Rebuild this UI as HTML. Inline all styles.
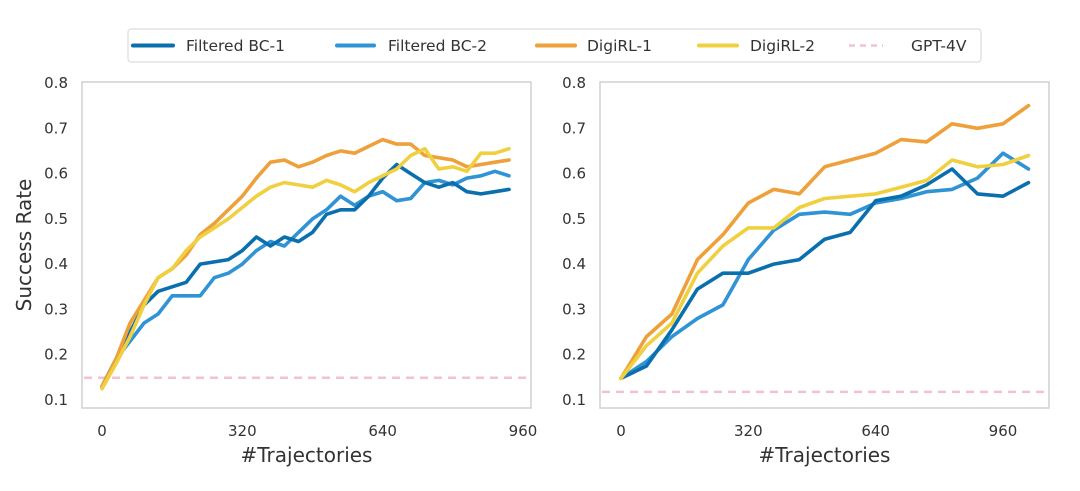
<!DOCTYPE html>
<html><head><meta charset="utf-8"><style>
body{margin:0;background:#fff;}
svg{display:block;font-family:"DejaVu Sans","Liberation Sans",sans-serif;}
</style></head><body>
<svg id="chart" width="1080" height="491" viewBox="0 0 1080 491" xmlns="http://www.w3.org/2000/svg">
<g>
<rect x="128" y="29" width="853" height="33" rx="3" fill="#fff" stroke="#ddd" stroke-width="1.2"/>
<line x1="133" y1="45.5" x2="173" y2="45.5" stroke="#0a6fad" stroke-width="4" stroke-linecap="round"/>
<text x="186" y="51" font-size="15.5" fill="#333">Filtered BC-1</text>
<line x1="337" y1="45.5" x2="374" y2="45.5" stroke="#2f93d4" stroke-width="4" stroke-linecap="round"/>
<text x="388" y="51" font-size="15.5" fill="#333">Filtered BC-2</text>
<line x1="537" y1="45.5" x2="575" y2="45.5" stroke="#eea03a" stroke-width="4" stroke-linecap="round"/>
<text x="587" y="51" font-size="15.5" fill="#333">DigiRL-1</text>
<line x1="699" y1="45.5" x2="737" y2="45.5" stroke="#f0d040" stroke-width="4" stroke-linecap="round"/>
<text x="750" y="51" font-size="15.5" fill="#333">DigiRL-2</text>
<line x1="849" y1="45.5" x2="883" y2="45.5" stroke="#f4c2cc" stroke-width="2.5" stroke-dasharray="6,5"/>
<text x="911" y="51" font-size="15.5" fill="#333">GPT-4V</text>
</g>
<text x="0" y="0" transform="translate(31,245) rotate(-90)" text-anchor="middle" font-size="20" fill="#333">Success Rate</text>
</svg>
<script>
const leftX = [0,32,64,96,128,160,192,224,256,288,320,352,384,416,448,480,512,544,576,608,640,672,704,736,768,800,832,864,896,928];
const leftBC1 = [0.13,0.19,0.25,0.31,0.34,0.35,0.36,0.40,0.405,0.41,0.43,0.46,0.44,0.46,0.45,0.47,0.51,0.52,0.52,0.55,0.59,0.62,0.60,0.58,0.57,0.58,0.56,0.555,0.56,0.565];
const leftBC2 = [0.13,0.19,0.23,0.27,0.29,0.33,0.33,0.33,0.37,0.38,0.40,0.43,0.45,0.44,0.47,0.50,0.52,0.55,0.53,0.55,0.56,0.54,0.545,0.58,0.585,0.575,0.59,0.595,0.605,0.595];
const leftRL1 = [0.13,0.19,0.27,0.32,0.37,0.39,0.42,0.465,0.49,0.52,0.55,0.59,0.625,0.63,0.615,0.625,0.64,0.65,0.645,0.66,0.675,0.665,0.665,0.64,0.635,0.63,0.615,0.62,0.625,0.63];
const leftRL2 = [0.125,0.18,0.24,0.31,0.37,0.39,0.43,0.46,0.48,0.50,0.525,0.55,0.57,0.58,0.575,0.57,0.585,0.575,0.56,0.58,0.595,0.61,0.64,0.655,0.61,0.615,0.605,0.645,0.645,0.655];
const leftGPT = 0.149;
const rightX = [0,64,128,192,256,320,384,448,512,576,640,704,768,832,896,960,1024];
const rightBC1 = [0.148,0.175,0.255,0.345,0.38,0.38,0.40,0.41,0.455,0.47,0.54,0.55,0.575,0.61,0.555,0.55,0.58];
const rightBC2 = [0.148,0.185,0.24,0.28,0.31,0.41,0.475,0.51,0.515,0.51,0.535,0.545,0.56,0.565,0.59,0.645,0.61];
const rightRL1 = [0.148,0.24,0.29,0.41,0.465,0.535,0.565,0.555,0.615,0.63,0.645,0.675,0.67,0.71,0.70,0.71,0.75];
const rightRL2 = [0.148,0.22,0.27,0.38,0.44,0.48,0.48,0.525,0.545,0.55,0.555,0.57,0.585,0.63,0.615,0.62,0.64];
const rightGPT = 0.118;
const yTicks = [0.1,0.2,0.3,0.4,0.5,0.6,0.7,0.8];
const xTicks = [0,320,640,960];

const NS="http://www.w3.org/2000/svg";
const svg=document.getElementById('chart');
function mk(tag,attrs,parent){const e=document.createElementNS(NS,tag);for(const k in attrs)e.setAttribute(k,attrs[k]);(parent||svg).appendChild(e);return e;}
const colors={bc1:"#0a6fad",bc2:"#2f93d4",rl1:"#eea03a",rl2:"#f0d040"};
function panel(name,fx0,fx1,x0px,x960px,xs,series,gpt){
  const g=mk('g',{});
  
  
  const fy0=82,fy1=408;
  const xS=v=>x0px+(x960px-x0px)*v/960;
  const yS=v=>400-(v-0.1)/0.7*317;
  const fr=mk('rect',{x:fx0,y:fy0,width:fx1-fx0,height:fy1-fy0,fill:"none",stroke:"#d0d0d0","stroke-width":1.5},g);
  
  
  yTicks.forEach(t=>{const e=mk('text',{x:fx0-14,y:yS(t)+5,"text-anchor":"end","font-size":15,fill:"#333"},g);e.textContent=t.toFixed(1);
    
    });
  xTicks.forEach(t=>{const e=mk('text',{x:xS(t),y:436,"text-anchor":"middle","font-size":15,fill:"#333"},g);e.textContent=t;
    
    });
  const xl=mk('text',{x:(fx0+fx1)/2,y:462,"text-anchor":"middle","font-size":20,fill:"#333"},g);xl.textContent="#Trajectories";
  
  
  const gl=mk('line',{x1:fx0+2,x2:fx1-2,y1:yS(gpt),y2:yS(gpt),stroke:"#f4c2cc","stroke-width":2.5,"stroke-dasharray":"8,6"},g);
  
  
  series.forEach(([key,vals,nm])=>{
    const d=vals.map((v,i)=>(i?'L':'M')+xS(xs[i]).toFixed(1)+','+yS(v).toFixed(1)).join(' ');
    const p=mk('path',{d:d,fill:"none",stroke:colors[key],"stroke-width":3.6,"stroke-linejoin":"round","stroke-linecap":"round"},g);
    
    
  });
}
panel('left-panel',82,531,102,523,leftX,[['bc2',leftBC2,'line-filtered-bc-2'],['bc1',leftBC1,'line-filtered-bc-1'],['rl1',leftRL1,'line-digirl-1'],['rl2',leftRL2,'line-digirl-2']],leftGPT);
panel('right-panel',600,1049,621,1003,rightX,[['bc2',rightBC2,'line-filtered-bc-2'],['bc1',rightBC1,'line-filtered-bc-1'],['rl1',rightRL1,'line-digirl-1'],['rl2',rightRL2,'line-digirl-2']],rightGPT);
</script>
</body></html>
